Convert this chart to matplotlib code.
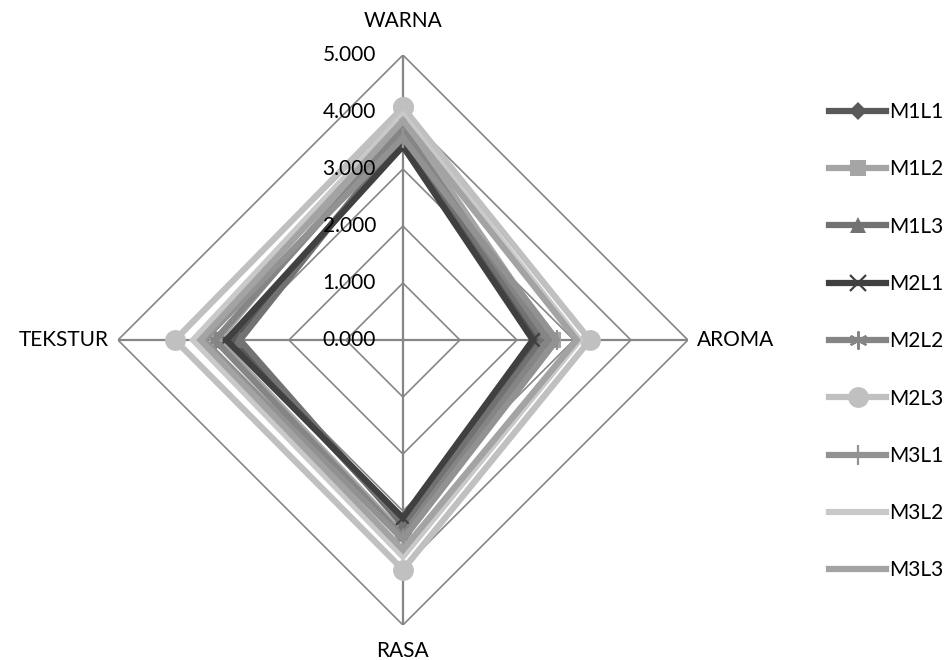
import numpy as np
import matplotlib
matplotlib.use("Agg")
import matplotlib.pyplot as plt

plt.rcParams['font.family'] = ['Lato', 'DejaVu Sans']

categories = ["WARNA", "AROMA", "RASA", "TEKSTUR"]
series_names = ["M1L1", "M1L2", "M1L3", "M2L1", "M2L2", "M2L3", "M3L1", "M3L2", "M3L3"]
m1l1 = [3.50, 2.35, 3.20, 3.00]
m1l2 = [3.85, 2.63, 3.40, 3.24]
m1l3 = [3.60, 2.45, 3.25, 2.86]
m2l1 = [3.40, 2.28, 3.12, 3.10]
m2l2 = [3.70, 2.55, 3.45, 3.30]
m2l3 = [4.08, 3.28, 4.03, 4.00]
m3l1 = [3.55, 2.70, 3.50, 3.50]
m3l2 = [3.95, 3.10, 3.80, 3.68]
m3l3 = [3.85, 3.05, 3.68, 3.55]
series_values = [m1l1, m1l2, m1l3, m2l1, m2l2, m2l3, m3l1, m3l2, m3l3]
tick_values = [0, 1, 2, 3, 4, 5]
tick_labels = ["0.000", "1.000", "2.000", "3.000", "4.000", "5.000"]

colors = ["#595959", "#a5a5a5", "#727272", "#404040", "#858585",
          "#c0c0c0", "#929292", "#c9c9c9", "#a3a3a3"]
markers = ["D", "s", "^", "x", (6, 2, 0), "o", "|", None, None]
msizes = [9, 12, 12, 12, 13, 15, 14, 0, 0]

fig = plt.figure(figsize=(9.52, 6.6), dpi=100)
ax = fig.add_axes([0.1239, 0.0530, 0.5987, 0.8636], projection="polar")
ax.set_theta_zero_location("N")
ax.set_theta_direction(-1)
ax.set_ylim(0, 5)
ax.grid(False)
ax.spines["polar"].set_visible(False)
ax.set_xticks([])
ax.set_yticks([])
ax.patch.set_alpha(0)

angles = np.linspace(0, 2 * np.pi, len(categories), endpoint=False)
closed = np.append(angles, angles[0])

grid_color = "#868686"
for r in tick_values[1:]:
    ax.plot(closed, [r] * len(closed), color=grid_color, lw=1.2, zorder=1)
for a in angles:
    ax.plot([a, a], [0, 5], color=grid_color, lw=1.6, zorder=1)

for name, vals, c, m, ms in zip(series_names, series_values, colors, markers, msizes):
    v = np.append(vals, vals[0])
    kw = dict(color=c, lw=4.5, label=name, zorder=3, solid_joinstyle="miter")
    if m is not None:
        mew = 1.6 if m in ("x", "|") or isinstance(m, tuple) else 0
        ax.plot(closed, v, marker=m, markersize=ms, markerfacecolor=c,
                markeredgecolor=c, markeredgewidth=mew, **kw)
    else:
        ax.plot(closed, v, **kw)

for t, lab in zip(tick_values, tick_labels):
    ax.annotate(lab, xy=(0, t), xytext=(-27, 0), textcoords="offset pixels",
                ha="right", va="center", fontsize=15, color="#000000")

label_offsets = [(0, 24, "center", "bottom"), (9, 0, "left", "center"),
                 (0, -16, "center", "top"), (-9, 0, "right", "center")]
for a, cat, (dx, dy, ha, va) in zip(angles, categories, label_offsets):
    ax.annotate(cat, xy=(a, 5), xytext=(dx, dy), textcoords="offset pixels",
                ha=ha, va=va, fontsize=15, color="#000000")

handles, labels = ax.get_legend_handles_labels()
leg = fig.legend(handles, labels, loc="upper left", bbox_to_anchor=(0.862, 0.858),
                 frameon=False, fontsize=15, handlelength=2.75, handletextpad=0.15,
                 labelspacing=1.79, borderaxespad=0, markerscale=1.0)

fig.savefig("out.png", dpi=100)
